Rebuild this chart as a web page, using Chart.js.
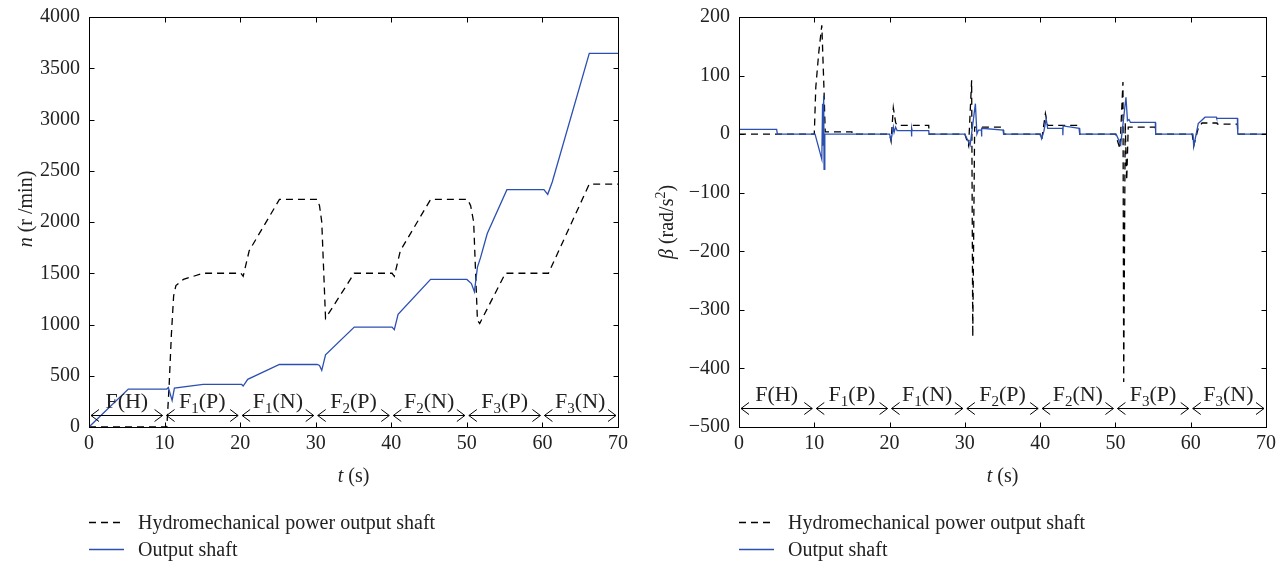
<!DOCTYPE html>
<html>
<head>
<meta charset="utf-8">
<script src="https://cdn.jsdelivr.net/npm/chart.js@4.4.0/dist/chart.umd.min.js"></script>
<style>
  body { margin: 0; background: #fff; }
  #wrap { position: relative; width: 1282px; height: 563px; }
  #wrap canvas { position: absolute; top: 0; }
</style>
</head>
<body>
<div id="wrap">
  <canvas id="speedChart" width="641" height="563" style="left:0"></canvas>
  <canvas id="accelChart" width="641" height="563" style="left:641px"></canvas>
</div>
<script>
// shared time axis and shift phases
var timeTicks = [0, 10, 20, 30, 40, 50, 60, 70];
var phaseBounds = [0, 10, 20, 30, 40, 50, 60, 70];
var phaseNames = ["F(H)", "F1(P)", "F1(N)", "F2(P)", "F2(N)", "F3(P)", "F3(N)"];
var seriesNames = ["Hydromechanical power output shaft", "Output shaft"];

// left: speed n (r/min)
var speedTicks = [0, 500, 1000, 1500, 2000, 2500, 3000, 3500, 4000];
var hydroSpeedT = [0, 10.3, 10.6, 10.9, 11.2, 11.5, 12.5, 15.1, 20.1, 20.4, 21.2, 25.2, 30.2, 30.5, 30.8, 31.3, 35.1, 40.1, 40.4, 41.2, 45.2, 50.1, 50.5, 50.9, 51.4, 51.7, 55.1, 60.8, 66.2, 70];
var hydroSpeed = [0, 0, 400, 900, 1280, 1380, 1440, 1500, 1500, 1470, 1720, 2220, 2220, 2160, 2000, 1060, 1500, 1500, 1470, 1720, 2220, 2220, 2160, 2000, 1040, 1010, 1500, 1500, 2370, 2370];
var outSpeedT = [0, 5.2, 10.3, 10.5, 11.0, 11.3, 15.1, 20.2, 20.4, 21.0, 25.2, 30.2, 30.5, 30.8, 31.3, 35.1, 40.1, 40.4, 40.9, 45.2, 50.0, 50.6, 51.0, 51.4, 51.8, 52.7, 55.3, 60.2, 60.7, 61.3, 66.2, 70];
var outSpeed = [0, 370, 370, 385, 260, 380, 415, 415, 400, 465, 610, 610, 600, 553, 705, 975, 975, 950, 1100, 1440, 1440, 1400, 1320, 1560, 1650, 1888, 2316, 2316, 2270, 2390, 3645, 3645];

// right: angular acceleration beta (rad/s^2)
var accelTicks = [-500, -400, -300, -200, -100, 0, 100, 200];
var hydroAccT = [0, 10.0, 10.2, 10.6, 11.0, 11.3, 11.45, 15.0, 15.05, 20.0, 20.2, 20.5, 20.8, 21.0, 25.2, 25.25, 30.0, 30.5, 30.9, 31.05, 31.3, 35.1, 35.15, 40.0, 40.2, 40.7, 41.0, 45.2, 45.25, 50.0, 50.6, 51.0, 51.1, 51.3, 51.5, 51.7, 55.3, 55.35, 60.2, 60.4, 61.0, 61.5, 63.5, 63.55, 66.2, 66.25, 70];
var hydroAcc = [0, 0, 80, 140, 186, 72, 4, 4, 0, 0, -12, 45, 20, 15, 15, 0, 0, -20, 92, -346, 12, 12, 0, 0, -10, 35, 15, 15, 0, 0, -25, 89, -423, 20, -79, 12, 12, 0, 0, -20, 10, 19, 19, 17, 17, 0, 0];
var outAccT = [0, 5.0, 5.1, 10.1, 11.0, 11.1, 11.15, 11.25, 11.3, 11.4, 20.0, 20.2, 20.5, 20.6, 20.8, 21.0, 22.9, 22.92, 22.95, 23.0, 25.2, 25.25, 30.0, 30.7, 31.4, 31.6, 31.8, 32.2, 32.22, 32.25, 35.1, 35.15, 40.0, 40.2, 40.5, 40.8, 41.0, 43.0, 43.02, 43.05, 45.2, 45.25, 50.1, 50.7, 51.4, 51.6, 51.8, 52.0, 55.3, 55.35, 60.3, 60.4, 61.0, 61.9, 63.4, 63.45, 66.2, 66.25, 70];
var outAcc = [8, 8, 0, 0, -43, 52, -20, 66, -60, 0, 0, -10, 12, 3, 12, 6, 6, -4, 10, 6, 6, 0, 0, -19, 52, 0, 7, 7, -4, 10, 7, 0, 0, -8, 5, 26, 10, 10, -2, 14, 10, 0, 0, -18, 63, 23, 25, 20, 20, 0, 0, -21, 18, 29, 29, 27, 27, 0, 0];

var FONT = "'Liberation Serif', 'Times New Roman', serif";
var BLUE = "#2c50b2";
var DASH = [7, 5];

Chart.defaults.font.family = FONT;
Chart.defaults.font.size = 20;
Chart.defaults.color = "#222";

function toPoints(t, v) {
  return t.map(function (x, i) {
    return { x: x, y: v[i] };
  });
}

function fontFor(p, size) {
  var s = p.sup || p.sub ? Math.round(size * 0.68) : size;
  return (p.it ? "italic " : "") + s + "px " + FONT;
}

// draw text made of pieces (italic / sub / sup)
function drawRich(ctx, pieces, x, y, size, center) {
  var w = 0;
  pieces.forEach(function (p) {
    ctx.font = fontFor(p, size);
    w += ctx.measureText(p.t).width;
  });
  var cx = center ? x - w / 2 : x;
  ctx.textAlign = "left";
  ctx.textBaseline = "alphabetic";
  pieces.forEach(function (p) {
    ctx.font = fontFor(p, size);
    var dy = p.sup ? -size * 0.42 : p.sub ? size * 0.24 : 0;
    ctx.fillText(p.t, cx, y + dy);
    cx += ctx.measureText(p.t).width;
  });
}

function phasePieces(name) {
  var m = name.match(/^F(\d?)(\(.*\))$/);
  var out = [{ t: "F" }];
  if (m[1]) out.push({ t: m[1], sub: true });
  out.push({ t: m[2] });
  return out;
}

function line(ctx, x0, y0, x1, y1) {
  ctx.beginPath();
  ctx.moveTo(x0, y0);
  ctx.lineTo(x1, y1);
  ctx.stroke();
}

// frame, inner ticks, phase arrows, axis titles and legend
var decor = {
  id: "decor",
  afterDatasetsDraw: function (chart, args, opts) {
    var ctx = chart.ctx;
    var a = chart.chartArea;
    var xs = chart.scales.x;
    var ys = chart.scales.y;
    var L = Math.round(a.left) + 0.5, R = Math.round(a.right) + 0.5;
    var T = Math.round(a.top) + 0.5, B = Math.round(a.bottom) + 0.5;
    ctx.save();
    ctx.strokeStyle = "#000";
    ctx.fillStyle = "#222";
    ctx.lineWidth = 1;
    ctx.setLineDash([]);
    ctx.strokeRect(L, T, R - L, B - T);

    xs.ticks.forEach(function (t) {
      var px = Math.round(xs.getPixelForValue(t.value)) + 0.5;
      line(ctx, px, B, px, B - 5);
      line(ctx, px, T, px, T + 5);
    });
    ys.ticks.forEach(function (t) {
      var py = Math.round(ys.getPixelForValue(t.value)) + 0.5;
      line(ctx, L, py, L + 5, py);
      line(ctx, R, py, R - 5, py);
    });

    // phase arrows
    var ay = Math.round(ys.getPixelForValue(opts.arrowAt)) + 0.5;
    for (var i = 0; i < phaseNames.length; i++) {
      var x0 = xs.getPixelForValue(phaseBounds[i]) + 2;
      var x1 = xs.getPixelForValue(phaseBounds[i + 1]) - 2;
      line(ctx, x0, ay, x1, ay);
      ctx.beginPath();
      ctx.moveTo(x0 + 8, ay - 6);
      ctx.lineTo(x0, ay);
      ctx.lineTo(x0 + 8, ay + 6);
      ctx.moveTo(x1 - 8, ay - 6);
      ctx.lineTo(x1, ay);
      ctx.lineTo(x1 - 8, ay + 6);
      ctx.stroke();
      drawRich(ctx, phasePieces(phaseNames[i]), (x0 + x1) / 2, ay - opts.labelGap, 22, true);
    }

    // y title (rotated)
    ctx.save();
    ctx.translate(opts.yTitleX, opts.yTitleY);
    ctx.rotate(-Math.PI / 2);
    drawRich(ctx, opts.yTitle, 0, 0, 20, true);
    ctx.restore();

    // x title
    drawRich(ctx, [{ t: "t", it: true }, { t: " (s)" }], (a.left + a.right) / 2, 482, 20, true);

    // legend
    var lx = Math.round(a.left);
    [522.5, 549.5].forEach(function (ly, k) {
      ctx.strokeStyle = k === 0 ? "#000" : BLUE;
      ctx.lineWidth = 1.3;
      ctx.setLineDash(k === 0 ? DASH : []);
      line(ctx, lx, ly, lx + 35, ly);
      ctx.setLineDash([]);
      drawRich(ctx, [{ t: seriesNames[k] }], lx + 49, ly + 6, 20, false);
    });
    ctx.restore();
  }
};

function makeChart(id, hydro, out, yTicks, yMin, yMax, yWidth, padRight, deco) {
  return new Chart(document.getElementById(id), {
    type: "line",
    data: {
      datasets: [
        {
          label: seriesNames[0],
          data: hydro,
          borderColor: "#000",
          borderWidth: 1.3,
          borderDash: DASH,
          pointRadius: 0,
          tension: 0,
          order: 2,
        },
        {
          label: seriesNames[1],
          data: out,
          borderColor: BLUE,
          borderWidth: 1.3,
          pointRadius: 0,
          tension: 0,
          order: 1,
        },
      ],
    },
    options: {
      responsive: false,
      animation: false,
      devicePixelRatio: 1,
      events: [],
      layout: { padding: { top: 17, right: padRight, left: 0, bottom: 0 } },
      plugins: {
        legend: { display: false },
        tooltip: { enabled: false },
        decor: deco,
      },
      scales: {
        x: {
          type: "linear",
          min: 0,
          max: 70,
          grid: { display: false, drawTicks: false },
          border: { display: false },
          afterBuildTicks: function (s) {
            s.ticks = timeTicks.map(function (v) { return { value: v }; });
          },
          afterFit: function (s) {
            s.height = 136;
            s.paddingLeft = 0;
            s.paddingRight = 0;
          },
          ticks: { padding: 5, maxRotation: 0 },
        },
        y: {
          type: "linear",
          min: yMin,
          max: yMax,
          grid: { display: false, drawTicks: false },
          border: { display: false },
          afterBuildTicks: function (s) {
            s.ticks = yTicks.map(function (v) { return { value: v }; });
          },
          afterFit: function (s) {
            s.width = yWidth;
            s.paddingTop = 0;
            s.paddingBottom = 0;
          },
          ticks: {
            padding: 9,
            callback: function (v) {
              return v < 0 ? "\u2212" + Math.abs(v) : String(v);
            },
          },
        },
      },
    },
    plugins: [decor],
  });
}

var speedChart = makeChart(
  "speedChart",
  toPoints(hydroSpeedT, hydroSpeed),
  toPoints(outSpeedT, outSpeed),
  speedTicks, 0, 4000, 89, 23,
  {
    arrowAt: 115,
    labelGap: 8,
    yTitle: [{ t: "n", it: true }, { t: " (r /min)" }],
    yTitleX: 32,
    yTitleY: 209,
  }
);

var accelChart = makeChart(
  "accelChart",
  toPoints(hydroAccT, hydroAcc),
  toPoints(outAccT, outAcc),
  accelTicks, -500, 200, 98, 16,
  {
    arrowAt: -468,
    labelGap: 8,
    yTitle: [{ t: "\u03b2", it: true }, { t: " (rad/s" }, { t: "2", sup: true }, { t: ")" }],
    yTitleX: 32,
    yTitleY: 222,
  }
);
</script>
</body>
</html>
